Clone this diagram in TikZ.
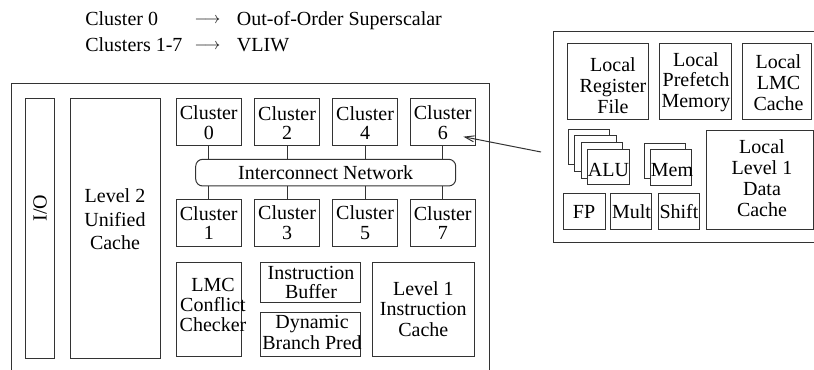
\documentclass[tikz,border=0pt]{standalone}
\usepackage{fontspec}
\setmainfont{Liberation Serif}
\usetikzlibrary{arrows.meta,fit}

\tikzset{
  blk/.style={draw=black!80, line width=0.75pt, fill=white, inner sep=0pt, outer sep=0pt},
  wire/.style={draw=black!80, line width=0.75pt},
  lbl/.style={align=center, inner sep=0pt, font=\fontsize{15}{15.5}\selectfont},
  tight/.style={font=\fontsize{15}{14.5}\selectfont},
  loose/.style={font=\fontsize{15}{17.6}\selectfont},
  hdr/.style={inner sep=0pt, anchor=base west, font=\fontsize{15}{15.5}\selectfont},
  harrow/.style={inner sep=0pt, font=\fontsize{11.6}{12}\selectfont},
}

\begin{document}
\begin{tikzpicture}[x=0.75pt, y=-0.75pt]
\useasboundingbox (0,0) rectangle (814,370);

% ---- legend ----
\node[hdr] (k0) at (85,26) {Cluster 0};
\node[hdr] (k1) at (85,51.7) {Clusters 1-7};
\node[harrow] (a0) at (207.5,20.7) {$\longrightarrow$};
\node[harrow] (a1) at (207.5,46.7) {$\longrightarrow$};
\node[hdr] (v0) at (236.7,26) {Out-of-Order Superscalar};
\node[hdr] (v1) at (236.7,51.7) {VLIW};

% ---- chip frame (open at the bottom) ----
\draw[wire] (11,372) -- (11,84) -- (489.5,84) -- (489.5,372);

\node[blk, fit={(25,98.3) (54.3,358)}] (io) {};
\node[lbl, rotate=90] (iot) at (40,208) {I/O};

\node[blk, fit={(70,98.3) (160,358)}] (l2) {};
\node[lbl, loose] (l2t) at (115,219.6) {Level 2\\Unified\\Cache};

% ---- clusters and interconnect ----
\node[blk, rounded corners=5.25pt, fit={(195.7,159.3) (455.7,186)}] (net) {};
\node[lbl] (nett) at (325.7,172.5) {Interconnect Network};

\foreach \i/\j/\x in {0/1/176, 2/3/254.3, 4/5/332.3, 6/7/410} {
  \node[blk, fit={(\x,98.3) ({\x+65.5},145.5)}] (c\i) {};
  \node[lbl, tight] (c\i t) at ({\x+32.75},122.8) {Cluster\\\i};
  \node[blk, fit={(\x,200) ({\x+65.5},246.7)}] (c\j) {};
  \node[lbl, tight] (c\j t) at ({\x+32.75},222.8) {Cluster\\\j};
  \draw[wire] (c\i.south) -- (c\i.south |- net.north);
  \draw[wire] (c\j.north |- net.south) -- (c\j.north);
}

% ---- front end ----
\node[blk, fit={(176,262.3) (241,356.7)}] (lmc) {};
\node[lbl, font=\fontsize{15}{15}\selectfont] (lmct) at (213,304.8) {LMC\\Conflict\\Checker};

\node[blk, fit={(260.3,262.3) (360,302.3)}] (ib) {};
\node[lbl, tight] (ibt) at (311,282.8) {Instruction\\Buffer};

\node[blk, fit={(260.3,312.7) (360,356.7)}] (bp) {};
\node[lbl] (bpt) at (312,332.8) {Dynamic\\Branch Pred};

\node[blk, fit={(372.3,262.3) (474.3,356.7)}] (l1i) {};
\node[lbl] (l1it) at (423.3,309) {Level 1\\Instruction\\Cache};

% ---- cluster detail ----
\draw[wire] (816,31.7) -- (553.3,31.7) -- (553.3,242.7) -- (816,242.7);

\node[blk, fit={(567.3,44) (648.3,119.3)}] (rf) {};
\node[lbl, font=\fontsize{15}{15.8}\selectfont] (rft) at (613,85.8) {Local\\Register\\File};

\node[blk, fit={(659,44) (731.7,119.3)}] (pm) {};
\node[lbl] (pmt) at (696,82) {Local\\Prefetch\\Memory};

\node[blk, fit={(742.3,44) (811,119.3)}] (lc) {};
\node[lbl] (lct) at (778.5,82.5) {Local\\LMC\\Cache};

\node[blk, fit={(706.7,131) (813.3,229.3)}] (dc) {};
\node[lbl, font=\fontsize{15}{15.8}\selectfont] (dct) at (762,178.1) {Local\\Level 1\\Data\\Cache};

% stacked ALUs, back to front
\foreach \k in {3,2,1} {
  \node[blk, fit={({587.7-6.5*\k},{149.3-6.7*\k}) ({629.3-6.5*\k},{185-6.7*\k})}] (alu\k) {};
}
\node[blk, fit={(587.7,149.3) (629.3,185)}] (alu) {};
\node[lbl] (alut) at (608.5,170) {ALU};

\node[blk, fit={(644,143.3) (685.7,179)}] (mem1) {};
\node[blk, fit={(650,150) (691.7,185.7)}] (mem) {};
\node[lbl] (memt) at (672,170) {Mem};

\node[blk, fit={(563.3,194) (605,229.3)}] (fp) {};
\node[lbl] (fpt) at (584,211.7) {FP};
\node[blk, fit={(610.7,194) (651,229.3)}] (mul) {};
\node[lbl] (mult) at (631.5,211.5) {Mult};
\node[blk, fit={(658.3,194) (699,229.3)}] (sh) {};
\node[lbl] (sht) at (679,211.5) {Shift};

% ---- pointer from the detail view to cluster 6 ----
\coordinate (ptr) at (541,152);
\coordinate (c6tip) at (463.3,136.7);
\draw[wire, -{Straight Barb[length=7pt,width=4.5pt]}] (ptr) -- (c6tip);
\end{tikzpicture}
\end{document}
